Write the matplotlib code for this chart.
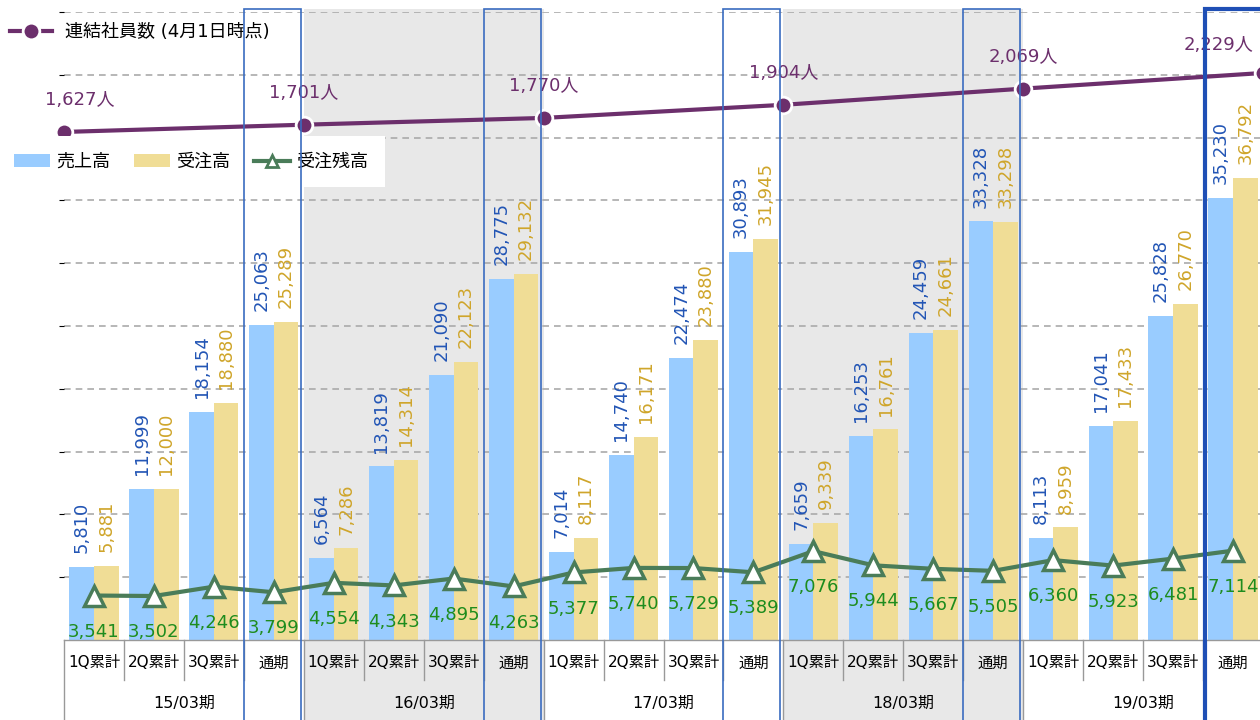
import numpy as np
import matplotlib
matplotlib.use('Agg')
import matplotlib.pyplot as plt
from matplotlib.lines import Line2D
from matplotlib.patches import Patch, Rectangle

plt.rcParams['font.family'] = ['DejaVu Sans', 'Noto Sans CJK JP']

# data
quarters = ['1Q累計', '2Q累計', '3Q累計', '通期']
periods = ['15/03期', '16/03期', '17/03期', '18/03期', '19/03期']
sales = [5810, 11999, 18154, 25063, 6564, 13819, 21090, 28775, 7014, 14740,
         22474, 30893, 7659, 16253, 24459, 33328, 8113, 17041, 25828, 35230]
orders = [5881, 12000, 18880, 25289, 7286, 14314, 22123, 29132, 8117, 16171,
          23880, 31945, 9339, 16761, 24661, 33298, 8959, 17433, 26770, 36792]
backlog = [3541, 3502, 4246, 3799, 4554, 4343, 4895, 4263, 5377, 5740,
           5729, 5389, 7076, 5944, 5667, 5505, 6360, 5923, 6481, 7114]
employees = [1627, 1701, 1770, 1904, 2069, 2229]

c_sales = '#99ccff'
c_orders = '#f0dd96'
c_sales_txt = '#2255b5'
c_orders_txt = '#cfa52a'
c_back = '#4a7c59'
c_back_txt = '#1e8c1e'
c_emp = '#6c2f6c'
c_rect = '#3a6cc0'
c_sep = '#999999'

n = len(sales)
x = np.arange(n)
nq = len(quarters)

fig = plt.figure(figsize=(12.6, 7.2), dpi=100)
ax = fig.add_axes([64/1260, 80/720, 1199/1260, 628/720])
ax.set_xlim(-0.5, n - 0.5)
ax.set_ylim(0, 50000)
for s in ax.spines.values():
    s.set_visible(False)
ax.set_xticks([])
ax.set_yticks(np.arange(5000, 50001, 5000))
ax.tick_params(left=False, labelleft=False)
ax.set_axisbelow(True)
ax.yaxis.grid(True, color='#aaaaaa', lw=1.2, dashes=(4, 3))

trans = ax.get_xaxis_transform()
bot = -0.14

# shaded periods
for g in range(len(periods)):
    if g % 2 == 1:
        ax.add_patch(Rectangle((g*nq - 0.5, bot), nq, 1.004 - bot, transform=trans,
                               facecolor='#e8e8e8', edgecolor='none', zorder=0.1, clip_on=False))

w = 0.41
ax.bar(x - w/2, sales, w, color=c_sales, zorder=2)
ax.bar(x + w/2, orders, w, color=c_orders, zorder=2)

for i in range(n):
    ax.annotate(f'{sales[i]:,}', (x[i] - w/2, sales[i]), xytext=(0, 10), textcoords='offset points',
                rotation=90, ha='center', va='bottom', fontsize=13, color=c_sales_txt, zorder=4)
    ax.annotate(f'{orders[i]:,}', (x[i] + w/2, orders[i]), xytext=(0, 10), textcoords='offset points',
                rotation=90, ha='center', va='bottom', fontsize=13, color=c_orders_txt, zorder=4)

ax.plot(x, backlog, color=c_back, lw=3, marker='^', ms=14, mfc='white', mec=c_back, mew=2.5, zorder=3)
for i in range(n):
    ax.annotate(f'{backlog[i]:,}', (x[i], backlog[i]), xytext=(0, -26), textcoords='offset points',
                ha='center', va='center', fontsize=13, color=c_back_txt, zorder=4)

# category axis
ax.plot([-0.5, n - 0.5], [0, 0], transform=trans, color=c_sep, lw=1, clip_on=False, zorder=3)
for i in range(n):
    ax.text(x[i], -0.0366, quarters[i % nq], transform=trans, ha='center', va='center', fontsize=11)
    if i % nq != nq - 1:
        ax.plot([i + 0.5, i + 0.5], [0, -0.064], transform=trans, color=c_sep, lw=1, clip_on=False)
for g, p in enumerate(periods):
    ax.text(g*nq + (nq - 1)/2, -0.1003, p, transform=trans, ha='center', va='center', fontsize=11.5)
    ax.plot([g*nq - 0.5, g*nq - 0.5], [0, bot], transform=trans, color=c_sep, lw=1, clip_on=False)

# employees on a secondary scale
ax2 = ax.twinx()
ax2.set_ylim(-3557, 2851)
ax2.axis('off')
emp_x = np.arange(len(employees))*nq - 0.5
ax2.plot(emp_x, employees, color=c_emp, lw=3, marker='o', ms=12, mec='white', mew=2,
         zorder=3, clip_on=False)
for i, v in enumerate(employees):
    dx, dy = 0, 23
    if i == 0:
        dx = 11
    elif i == len(employees) - 1:
        dx, dy = -32, 20
    ax2.annotate(f'{v:,}人', (emp_x[i], v), xytext=(dx, dy), textcoords='offset points',
                 ha='center', va='center', fontsize=13, color=c_emp, annotation_clip=False)

# legends
leg1 = ax2.legend([Line2D([], [], color=c_emp, lw=3, marker='o', ms=12, mec='white', mew=2)],
                  ['連結社員数 (4月1日時点)'], loc='center left',
                  bbox_to_anchor=(10/1260, 1 - 32/720), bbox_transform=fig.transFigure,
                  frameon=False, borderaxespad=0, borderpad=0, handlelength=2.3,
                  handletextpad=0.75, fontsize=13)
ax2.add_artist(leg1)

# white backing box behind the series legend
ax2.add_patch(Rectangle((0, 1 - 187/720), 385/1260, 51/720, transform=fig.transFigure,
                        facecolor='white', edgecolor='none', zorder=4.5, clip_on=False))
h2 = [Patch(facecolor=c_sales), Patch(facecolor=c_orders),
      Line2D([], [], color=c_back, lw=3, marker='^', ms=8, mfc='white', mec=c_back, mew=2)]
leg2 = ax2.legend(h2, ['売上高', '受注高', '受注残高'], ncol=3, loc='center left',
                  bbox_to_anchor=(14/1260, 1 - 162/720), bbox_transform=fig.transFigure,
                  borderaxespad=0, borderpad=0, handlelength=2.0, handletextpad=0.35,
                  columnspacing=1.3, fontsize=13, frameon=False)
leg2.set_zorder(5)

# year-end outlines
for g in range(len(periods)):
    idx = g*nq + nq - 1
    if g == len(periods) - 1:
        ax2.add_patch(Rectangle((idx - 0.47, bot), 1.2, 1.005 - bot, transform=trans,
                                fill=False, edgecolor='#1f4fb5', lw=3, zorder=10, clip_on=False))
    else:
        ax2.add_patch(Rectangle((idx - 0.5, bot), 0.95, 1.005 - bot, transform=trans,
                                fill=False, edgecolor=c_rect, lw=1.2, zorder=10, clip_on=False))

fig.savefig('out.png', dpi=100)
